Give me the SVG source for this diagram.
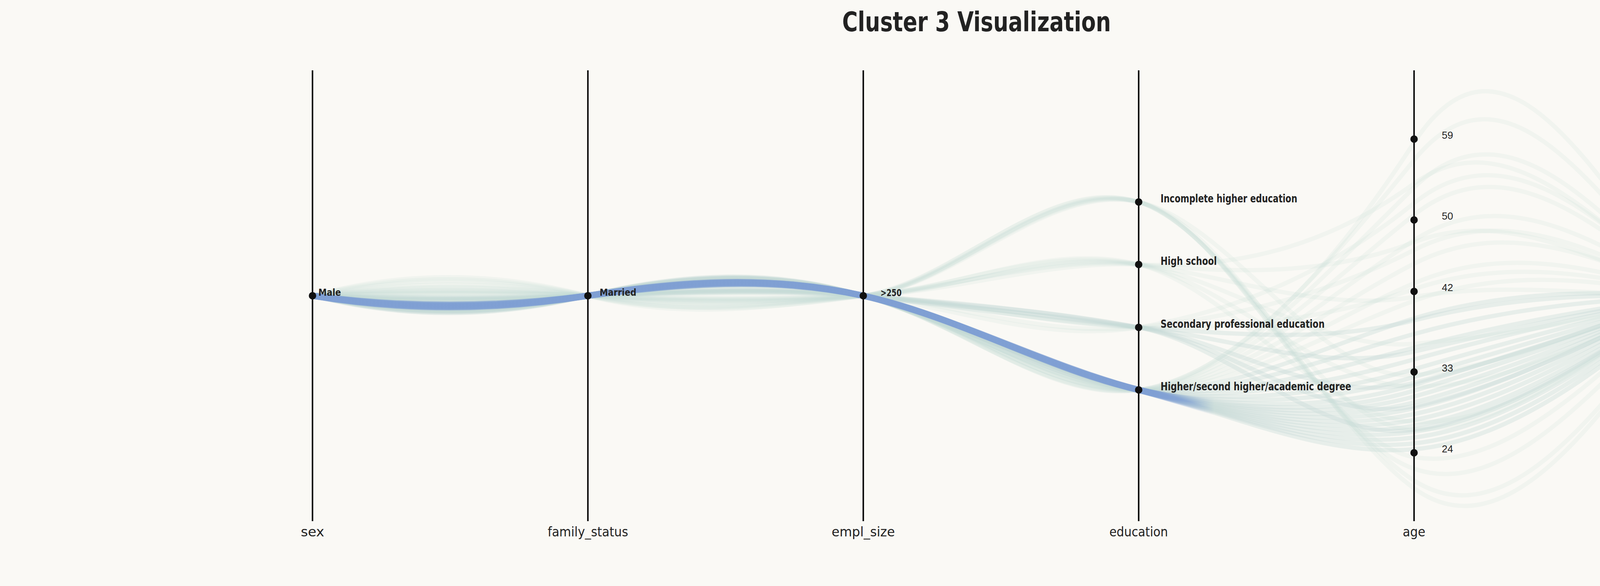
<svg xmlns="http://www.w3.org/2000/svg" width="5000" height="1500" viewBox="0 0 5000 1500">
<defs>
<linearGradient id="blueFade" gradientUnits="userSpaceOnUse" x1="800" y1="0" x2="4325" y2="0">
<stop offset="0" stop-color="#7f9fd3" stop-opacity="1"/>
<stop offset="0.604" stop-color="#7f9fd3" stop-opacity="1"/>
<stop offset="0.655" stop-color="#7f9fd3" stop-opacity="0"/>
<stop offset="0.965" stop-color="#7f9fd3" stop-opacity="0"/>
<stop offset="1" stop-color="#7f9fd3" stop-opacity="0.7"/>
</linearGradient>
<style>
.bg{fill:#faf9f5}
.g path{fill:none;stroke:#c3d9d3;stroke-opacity:0.33;stroke-width:11}
.g path.f{stroke-opacity:0.17}
.b path{fill:none;stroke:url(#blueFade);stroke-opacity:0.6;stroke-width:16}
.axis line{stroke:#111;stroke-width:4}
.dot{fill:#111}
.din{font-family:"DejaVu Sans Condensed","DejaVu Sans",sans-serif;fill:#222}
.title{font-size:70px;font-weight:bold}
.alab{font-size:34px;text-anchor:middle}
.cat{font-size:25px;font-weight:bold}
.edu{font-size:28px;font-weight:bold}
.num{font-family:"Liberation Sans",Arial,sans-serif;font-size:26px;fill:#222}
</style>
</defs>
<rect class="bg" x="0" y="0" width="5000" height="1500"/>
<text class="din title" x="2500" y="80" text-anchor="middle" textLength="688" lengthAdjust="spacingAndGlyphs">Cluster 3 Visualization</text>
<g id="connectors">
<g class="g">
<path d="M800,757C1035,785 1270,787 1505,757C1740,727 1975,702 2210,757C2445,812 2680,936 2915,998C3150,1060 3385,1170 3620,1150C3855,1130 4090,957 4325,757"/>
<path d="M800,757C1035,802 1270,799 1505,757C1740,715 1975,695 2210,757C2445,819 2680,938 2915,998C3150,1058 3385,1160 3620,1135C3855,1110 4090,942 4325,757"/>
<path d="M800,757C1035,795 1270,797 1505,757C1740,717 1975,707 2210,757C2445,807 2680,938 2915,998C3150,1058 3385,1150 3620,1120C3855,1090 4090,927 4325,757"/>
<path d="M800,757C1035,812 1270,809 1505,757C1740,705 1975,689 2210,757C2445,825 2680,940 2915,998C3150,1056 3385,1140 3620,1105C3855,1070 4090,912 4325,757"/>
<path d="M800,757C1035,789 1270,792 1505,757C1740,722 1975,709 2210,757C2445,805 2680,941 2915,998C3150,1055 3385,1130 3620,1090C3855,1050 4090,897 4325,757"/>
<path d="M800,757C1035,807 1270,807 1505,757C1740,707 1975,687 2210,757C2445,827 2680,943 2915,998C3150,1053 3385,1120 3620,1075C3855,1030 4090,885 4325,757"/>
<path d="M800,757C1035,799 1270,797 1505,757C1740,717 1975,699 2210,757C2445,815 2680,943 2915,998C3150,1053 3385,1110 3620,1060C3855,1010 4090,875 4325,757"/>
<path d="M800,757C1035,781 1270,783 1505,757C1740,731 1975,712 2210,757C2445,802 2680,946 2915,998C3150,1050 3385,1100 3620,1045C3855,990 4090,865 4325,757"/>
<path d="M800,757C1035,817 1270,815 1505,757C1740,699 1975,685 2210,757C2445,829 2680,948 2915,998C3150,1048 3385,1090 3620,1030C3855,970 4090,857 4325,757"/>
<path d="M800,757C1035,793 1270,795 1505,757C1740,719 1975,705 2210,757C2445,809 2680,950 2915,998C3150,1046 3385,1080 3620,1015C3855,950 4090,852 4325,757"/>
<path d="M800,757C1035,805 1270,802 1505,757C1740,712 1975,693 2210,757C2445,821 2680,952 2915,998C3150,1044 3385,1070 3620,1000C3855,930 4090,845 4325,757"/>
<path d="M800,757C1035,787 1270,785 1505,757C1740,729 1975,710 2210,757C2445,804 2680,954 2915,998C3150,1042 3385,1055 3620,985C3855,915 4090,837 4325,757"/>
<path d="M800,757C1035,809 1270,812 1505,757C1740,702 1975,691 2210,757C2445,823 2680,958 2915,998C3150,1038 3385,1035 3620,965C3855,895 4090,827 4325,757"/>
<path d="M800,757C1035,797 1270,799 1505,757C1740,715 1975,701 2210,757C2445,813 2680,962 2915,998C3150,1034 3385,1013 3620,945C3855,877 4090,815 4325,757"/>
<path d="M800,757C1035,791 1270,793 1505,757C1740,721 1975,707 2210,757C2445,807 2680,968 2915,998C3150,1028 3385,985 3620,920C3855,855 4090,802 4325,757"/>
<path d="M800,757C1035,815 1270,812 1505,757C1740,702 1975,687 2210,757C2445,827 2680,973 2915,998C3150,1023 3385,952 3620,890C3855,828 4090,787 4325,757"/>
<path d="M800,757C1035,783 1270,785 1505,757C1740,729 1975,711 2210,757C2445,803 2680,980 2915,998C3150,1016 3385,920 3620,855C3855,790 4090,767 4325,757"/>
<path d="M800,757C1035,803 1270,805 1505,757C1740,709 1975,697 2210,757C2445,817 2680,986 2915,998C3150,1010 3385,887 3620,815C3855,743 4090,745 4325,757"/>
<path class="f" d="M800,757C1035,801 1270,797 1505,757C1740,717 1975,694 2210,757C2445,820 2680,993 2915,998C3150,1003 3385,855 3620,770C3855,685 4090,717 4325,757"/>
<path class="f" d="M800,757C1035,787 1270,789 1505,757C1740,725 1975,708 2210,757C2445,806 2680,998 2915,998C3150,998 3385,825 3620,725C3855,625 4090,687 4325,757"/>
<path class="f" d="M800,757C1035,811 1270,809 1505,757C1740,705 1975,690 2210,757C2445,824 2680,1003 2915,998C3150,993 3385,795 3620,675C3855,555 4090,657 4325,757"/>
<path class="f" d="M800,757C1035,795 1270,793 1505,757C1740,721 1975,703 2210,757C2445,811 2680,1010 2915,998C3150,986 3385,765 3620,615C3855,465 4090,617 4325,757"/>
<path class="f" d="M800,757C1035,779 1270,781 1505,757C1740,733 1975,713 2210,757C2445,801 2680,1016 2915,998C3150,980 3385,735 3620,550C3855,365 4090,577 4325,757"/>
<path class="f" d="M800,757C1035,807 1270,805 1505,757C1740,709 1975,695 2210,757C2445,819 2680,1022 2915,998C3150,974 3385,710 3620,480C3855,250 4090,537 4325,757"/>
<path class="f" d="M800,757C1035,797 1270,801 1505,757C1740,713 1975,699 2210,757C2445,815 2680,1028 2915,998C3150,968 3385,700 3620,410C3855,120 4090,497 4325,757"/>
<path class="f" d="M800,757C1035,792 1270,790 1505,757C1740,724 1975,705 2210,757C2445,809 2680,1033 2915,998C3150,963 3385,725 3620,365C3855,5 4090,467 4325,757"/>
<path d="M800,757C1035,769 1270,767 1505,757C1740,747 1975,735 2210,757C2445,779 2680,793 2915,838C3150,883 3385,1135 3620,1100C3855,1065 4090,907 4325,757"/>
<path d="M800,757C1035,762 1270,763 1505,757C1740,751 1975,742 2210,757C2445,772 2680,798 2915,838C3150,878 3385,1090 3620,1040C3855,990 4090,867 4325,757"/>
<path d="M800,757C1035,775 1270,772 1505,757C1740,742 1975,729 2210,757C2445,785 2680,803 2915,838C3150,873 3385,1040 3620,980C3855,920 4090,837 4325,757"/>
<path d="M800,757C1035,765 1270,767 1505,757C1740,747 1975,739 2210,757C2445,775 2680,813 2915,838C3150,863 3385,955 3620,900C3855,845 4090,792 4325,757"/>
<path d="M800,757C1035,772 1270,769 1505,757C1740,745 1975,732 2210,757C2445,782 2680,823 2915,838C3150,853 3385,880 3620,820C3855,760 4090,752 4325,757"/>
<path class="f" d="M800,757C1035,760 1270,761 1505,757C1740,753 1975,747 2210,757C2445,767 2680,833 2915,838C3150,843 3385,820 3620,740C3855,660 4090,702 4325,757"/>
<path class="f" d="M800,757C1035,767 1270,765 1505,757C1740,749 1975,737 2210,757C2445,777 2680,863 2915,838C3150,813 3385,760 3620,640C3855,520 4090,642 4325,757"/>
<path class="f" d="M800,757C1035,777 1270,775 1505,757C1740,739 1975,727 2210,757C2445,787 2680,878 2915,838C3150,798 3385,710 3620,520C3855,330 4090,557 4325,757"/>
<path class="f" d="M800,757C1035,747 1270,745 1505,757C1740,769 1975,769 2210,757C2445,745 2680,617 2915,677C3150,737 3385,1070 3620,1080C3855,1090 4090,907 4325,757"/>
<path class="f" d="M800,757C1035,739 1270,741 1505,757C1740,773 1975,775 2210,757C2445,739 2680,627 2915,677C3150,727 3385,990 3620,990C3855,990 4090,867 4325,757"/>
<path class="f" d="M800,757C1035,751 1270,749 1505,757C1740,765 1975,765 2210,757C2445,749 2680,637 2915,677C3150,717 3385,900 3620,880C3855,860 4090,817 4325,757"/>
<path class="f" d="M800,757C1035,743 1270,742 1505,757C1740,772 1975,772 2210,757C2445,742 2680,647 2915,677C3150,707 3385,800 3620,760C3855,720 4090,757 4325,757"/>
<path class="f" d="M800,757C1035,735 1270,737 1505,757C1740,777 1975,777 2210,757C2445,737 2680,657 2915,677C3150,697 3385,710 3620,620C3855,530 4090,667 4325,757"/>
<path class="f" d="M800,757C1035,749 1270,747 1505,757C1740,767 1975,767 2210,757C2445,747 2680,667 2915,677C3150,687 3385,640 3620,470C3855,300 4090,567 4325,757"/>
<path class="f" d="M800,757C1035,727 1270,725 1505,757C1740,789 1975,782 2210,757C2445,732 2680,462 2915,517C3150,572 3385,1080 3620,1250C3855,1420 4090,1077 4325,757"/>
<path class="f" d="M800,757C1035,692 1270,695 1505,757C1740,819 1975,787 2210,757C2445,727 2680,442 2915,517C3150,592 3385,1080 3620,1230C3855,1380 4090,1057 4325,757"/>
<path class="f" d="M800,757C1035,699 1270,702 1505,757C1740,812 1975,779 2210,757C2445,735 2680,452 2915,517C3150,582 3385,1120 3620,1200C3855,1280 4090,987 4325,757"/>
<path class="f" d="M800,757C1035,719 1270,717 1505,757C1740,797 1975,785 2210,757C2445,729 2680,457 2915,517C3150,577 3385,1130 3620,1170C3855,1210 4090,957 4325,757"/>
<path class="f" d="M800,757C1035,707 1270,709 1505,757C1740,805 1975,792 2210,757C2445,722 2680,447 2915,517C3150,587 3385,1100 3620,1100C3855,1100 4090,907 4325,757"/>
<path class="f" d="M800,757C1035,732 1270,729 1505,757C1740,785 1975,777 2210,757C2445,737 2680,467 2915,517C3150,567 3385,980 3620,960C3855,940 4090,827 4325,757"/>
</g>
<g class="b">
<path d="M800,757C1035,788 1270,787 1505,757C1740,727 1975,707 2210,757C2445,807 2680,946 2915,998C3150,1050 3385,1070 3620,1000C3855,930 4090,845 4325,757"/>
<path d="M800,757C1035,790 1270,790 1505,757C1740,724 1975,705 2210,757C2445,809 2680,942 2915,998C3150,1054 3385,1095 3620,1040C3855,985 4090,865 4325,757"/>
<path d="M800,757C1035,792 1270,791 1505,757C1740,723 1975,704 2210,757C2445,810 2680,940 2915,998C3150,1056 3385,1125 3620,1080C3855,1035 4090,887 4325,757"/>
<path d="M800,757C1035,793 1270,793 1505,757C1740,721 1975,702 2210,757C2445,812 2680,938 2915,998C3150,1058 3385,1150 3620,1120C3855,1090 4090,927 4325,757"/>
<path d="M800,757C1035,795 1270,794 1505,757C1740,720 1975,706 2210,757C2445,808 2680,943 2915,998C3150,1053 3385,1030 3620,960C3855,890 4090,827 4325,757"/>
<path d="M800,757C1035,797 1270,796 1505,757C1740,718 1975,703 2210,757C2445,811 2680,936 2915,998C3150,1060 3385,1165 3620,1140C3855,1115 4090,942 4325,757"/>
</g>
</g>
<g id="axis-sex">
<g class="axis"><line x1="800" y1="180" x2="800" y2="1334"/></g>
<circle class="dot" cx="800" cy="757" r="9.5"/>
<text class="din cat" x="815" y="757" textLength="58" lengthAdjust="spacingAndGlyphs">Male</text>
<text class="din alab" x="800" y="1373" textLength="60" lengthAdjust="spacingAndGlyphs">sex</text>
</g>
<g id="axis-family_status">
<g class="axis"><line x1="1505" y1="180" x2="1505" y2="1334"/></g>
<circle class="dot" cx="1505" cy="757" r="9.5"/>
<text class="din cat" x="1535" y="757" textLength="94" lengthAdjust="spacingAndGlyphs">Married</text>
<text class="din alab" x="1505" y="1373" textLength="206" lengthAdjust="spacingAndGlyphs">family_status</text>
</g>
<g id="axis-empl_size">
<g class="axis"><line x1="2210" y1="180" x2="2210" y2="1334"/></g>
<circle class="dot" cx="2210" cy="757" r="9.5"/>
<text class="din cat" x="2254" y="758" textLength="54" lengthAdjust="spacingAndGlyphs">&gt;250</text>
<text class="din alab" x="2210" y="1373" textLength="162" lengthAdjust="spacingAndGlyphs">empl_size</text>
</g>
<g id="axis-education">
<g class="axis"><line x1="2915" y1="180" x2="2915" y2="1334"/></g>
<circle class="dot" cx="2915" cy="517" r="9.5"/>
<circle class="dot" cx="2915" cy="677" r="9.5"/>
<circle class="dot" cx="2915" cy="838" r="9.5"/>
<circle class="dot" cx="2915" cy="998" r="9.5"/>
<text class="din edu" x="2971" y="518" textLength="350" lengthAdjust="spacingAndGlyphs">Incomplete higher education</text>
<text class="din edu" x="2971" y="678" textLength="144" lengthAdjust="spacingAndGlyphs">High school</text>
<text class="din edu" x="2971" y="839" textLength="420" lengthAdjust="spacingAndGlyphs">Secondary professional education</text>
<text class="din edu" x="2971" y="999" textLength="488" lengthAdjust="spacingAndGlyphs">Higher/second higher/academic degree</text>
<text class="din alab" x="2915" y="1373" textLength="150" lengthAdjust="spacingAndGlyphs">education</text>
</g>
<g id="axis-age">
<g class="axis"><line x1="3620" y1="180" x2="3620" y2="1334"/></g>
<circle class="dot" cx="3620" cy="356" r="9.5"/>
<circle class="dot" cx="3620" cy="563" r="9.5"/>
<circle class="dot" cx="3620" cy="746" r="9.5"/>
<circle class="dot" cx="3620" cy="952" r="9.5"/>
<circle class="dot" cx="3620" cy="1159" r="9.5"/>
<text class="num" x="3691" y="355">59</text>
<text class="num" x="3691" y="562">50</text>
<text class="num" x="3691" y="745">42</text>
<text class="num" x="3691" y="951">33</text>
<text class="num" x="3691" y="1158">24</text>
<text class="din alab" x="3620" y="1373" textLength="58" lengthAdjust="spacingAndGlyphs">age</text>
</g>
<g id="axis-cluster">
<g class="axis"><line x1="4325" y1="180" x2="4325" y2="1334"/></g>
<circle class="dot" cx="4325" cy="757" r="9.5"/>
<text class="num" x="4409" y="757">3</text>
<text class="din alab" x="4325" y="1373" textLength="111" lengthAdjust="spacingAndGlyphs">cluster</text>
</g>
</svg>
